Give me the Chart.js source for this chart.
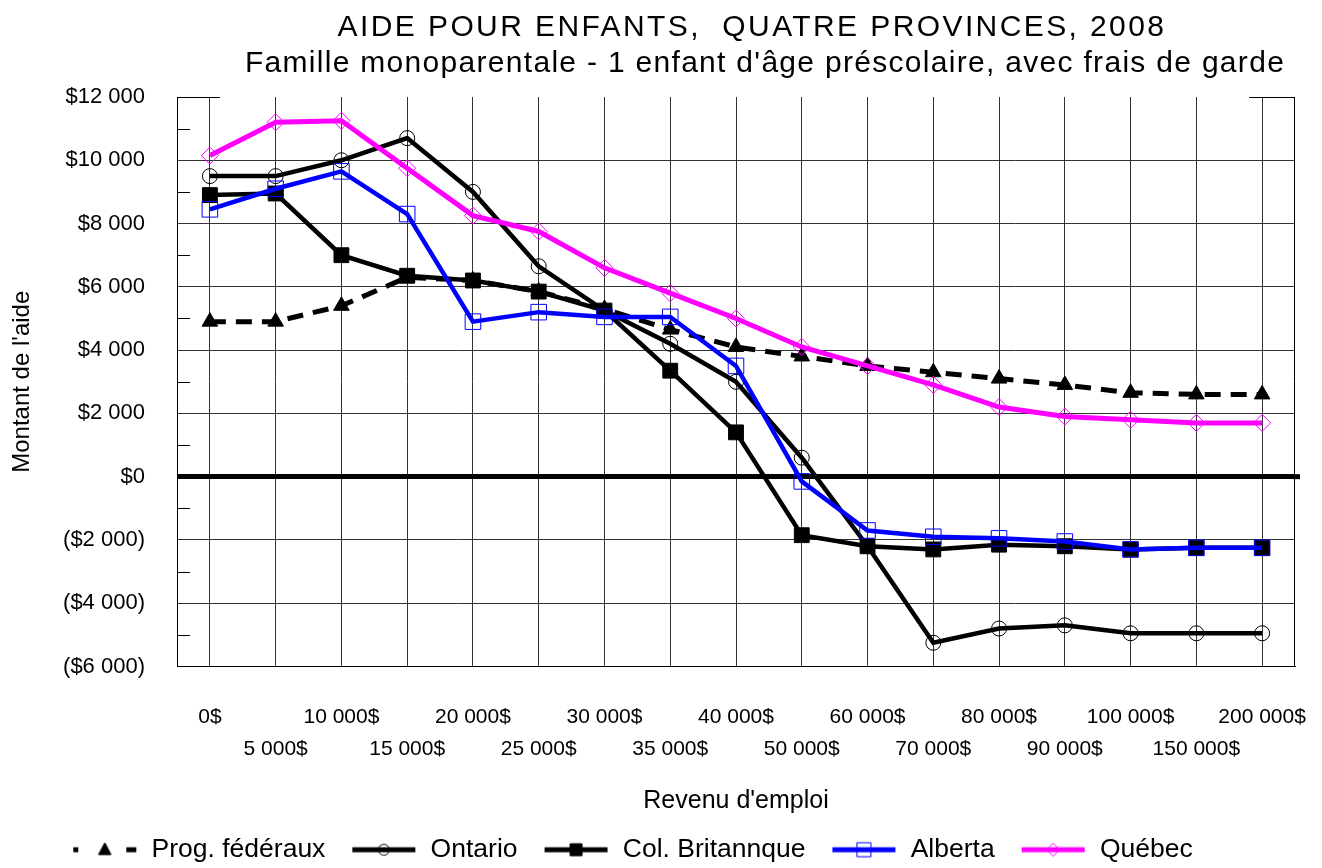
<!DOCTYPE html>
<html>
<head>
<meta charset="utf-8">
<title>Aide pour enfants, quatre provinces, 2008</title>
<script src="https://cdn.jsdelivr.net/npm/chart.js@4.4.1/dist/chart.umd.min.js"></script>
<style>
  html, body { margin: 0; padding: 0; background: #fff; }
  #wrap { width: 1322px; height: 868px; }
</style>
</head>
<body>
<div id="wrap"><canvas id="chart" width="1322" height="868"></canvas></div>
<script>
// revenu d'emploi (categories on the x axis)
const categories = ['0$', '5 000$', '10 000$', '15 000$', '20 000$', '25 000$', '30 000$', '35 000$',
  '40 000$', '50 000$', '60 000$', '70 000$', '80 000$', '90 000$', '100 000$', '150 000$', '200 000$'];

// montant de l'aide
const federal = [4900, 4900, 5400, 6300, 6200, 5850, 5300, 4650, 4100, 3800, 3500, 3300, 3100, 2900, 2650, 2600, 2600];
const ontario = [9500, 9500, 10000, 10700, 9000, 6650, 5250, 4200, 3000, 600, -2200, -5250, -4800, -4700, -4950, -4950, -4950];
const colBritannique = [8900, 8950, 7000, 6350, 6200, 5850, 5250, 3350, 1400, -1850, -2200, -2300, -2150, -2200, -2300, -2250, -2250];
const alberta = [8450, 9100, 9650, 8300, 4900, 5200, 5050, 5050, 3500, -150, -1700, -1900, -1950, -2050, -2300, -2250, -2250];
const quebec = [10150, 11200, 11250, 9750, 8250, 7750, 6600, 5800, 5000, 4100, 3500, 2900, 2200, 1900, 1800, 1700, 1700];

const seriesNames = ['Prog. fédéraux', 'Ontario', 'Col. Britannque', 'Alberta', 'Québec'];
const titleLines = ['AIDE POUR ENFANTS,  QUATRE PROVINCES, 2008',
  "Famille monoparentale - 1 enfant d'âge préscolaire, avec frais de garde"];
const yMin = -6000, yMax = 12000, yStep = 2000;

const FONT = "'Liberation Sans', Arial, Helvetica, sans-serif";
Chart.defaults.font.family = FONT;
Chart.defaults.color = '#000';

function thousands(v) {
  return String(v).replace(/\B(?=(\d{3})+(?!\d))/g, ' ');
}
function money(v) {
  const s = '$' + thousands(Math.abs(v));
  return v < 0 ? '(' + s + ')' : s;
}

// small picture used as legend symbol: line sample + marker
function legendSample(color, lineWidth, style, r, fill, dashed) {
  const c = document.createElement('canvas');
  c.width = 86; c.height = 24;
  const g = c.getContext('2d');
  const x0 = 21, x1 = 84, cx = (x0 + x1) / 2, cy = 12;
  g.strokeStyle = color;
  g.lineWidth = lineWidth;
  if (dashed) {
    g.fillStyle = color;
    g.fillRect(x0, cy - 2.5, 5, 5);
    g.fillRect(x1 - 10, cy - 2.5, 10, 5);
  } else {
    g.beginPath(); g.moveTo(x0, cy); g.lineTo(x1, cy); g.stroke();
  }
  g.beginPath();
  if (style === 'circle') g.arc(cx, cy, r, 0, Math.PI * 2);
  else if (style === 'rect') g.rect(cx - r, cy - r, 2 * r, 2 * r);
  else if (style === 'rectRot') { g.moveTo(cx, cy - r); g.lineTo(cx + r, cy); g.lineTo(cx, cy + r); g.lineTo(cx - r, cy); g.closePath(); }
  else if (style === 'triangle') { g.moveTo(cx, cy - r); g.lineTo(cx + r * 0.9, cy + r * 0.7); g.lineTo(cx - r * 0.9, cy + r * 0.7); g.closePath(); }
  if (fill) { g.fillStyle = fill; g.fill(); }
  g.lineWidth = 1;
  g.strokeStyle = color;
  g.stroke();
  return c;
}

const samples = [
  legendSample('#000', 5, 'triangle', 7, '#000', true),
  legendSample('#000', 5, 'circle', 5.5, null, false),
  legendSample('#000', 5, 'rect', 6, '#000', false),
  legendSample('#0000ff', 5, 'rect', 7, null, false),
  legendSample('#ff00ff', 5, 'rectRot', 6.5, null, false)
];

// frame bits, minor ticks and the two title lines
const decorations = {
  id: 'decorations',
  afterLayout(chart) {
    // the legend in the picture sits a little left of centre and a bit lower
    const lg = chart.legend;
    if (lg) { lg.left -= 25; lg.right -= 25; lg.top += 5; lg.bottom += 5; }
  },
  beforeDatasetsDraw(chart) {
    const {ctx, chartArea: a, scales: {y}} = chart;
    ctx.save();
    ctx.strokeStyle = '#000';
    ctx.lineWidth = 1;
    ctx.beginPath();
    for (let v = yMin + yStep / 2; v < yMax; v += yStep) {
      const py = Math.round(y.getPixelForValue(v)) + 0.5;
      ctx.moveTo(a.left, py); ctx.lineTo(a.left + 13, py);
    }
    ctx.moveTo(a.right - 0.5, a.top); ctx.lineTo(a.right - 0.5, a.bottom);
    ctx.moveTo(a.left, a.top + 0.5); ctx.lineTo(a.left + 43, a.top + 0.5);
    ctx.moveTo(a.right - 46, a.top + 0.5); ctx.lineTo(a.right, a.top + 0.5);
    ctx.stroke();
    // zero line runs a touch past the right frame
    const y0 = y.getPixelForValue(0);
    ctx.lineWidth = 5;
    ctx.beginPath(); ctx.moveTo(a.right - 2, y0); ctx.lineTo(a.right + 5, y0); ctx.stroke();
    ctx.restore();
  },
  afterDraw(chart) {
    const {ctx, chartArea: a} = chart;
    const mid = (a.left + a.right) / 2;
    ctx.save();
    ctx.fillStyle = '#000';
    ctx.textAlign = 'center';
    ctx.textBaseline = 'alphabetic';
    ctx.font = '30px ' + FONT;
    if ('letterSpacing' in ctx) ctx.letterSpacing = '2.4px';
    ctx.fillText(titleLines[0], mid + 16, 36);
    if ('letterSpacing' in ctx) ctx.letterSpacing = '1.3px';
    ctx.fillText(titleLines[1], mid + 29, 72);
    ctx.restore();
  }
};

const seriesData = [federal, ontario, colBritannique, alberta, quebec];
const styles = [
  {color: '#000', width: 5, dash: [16, 10], pointStyle: 'triangle', radius: 9, fill: '#000'},
  {color: '#000', width: 4.5, dash: [], pointStyle: 'circle', radius: 7.5, fill: 'rgba(0,0,0,0)'},
  {color: '#000', width: 4.5, dash: [], pointStyle: 'rect', radius: 10.5, fill: '#000'},
  {color: '#0000ff', width: 4.5, dash: [], pointStyle: 'rect', radius: 11, fill: 'rgba(0,0,0,0)'},
  {color: '#ff00ff', width: 5, dash: [], pointStyle: 'rectRot', radius: 8.5, fill: 'rgba(0,0,0,0)'}
];

const datasets = seriesData.map((data, i) => ({
  label: seriesNames[i],
  data,
  borderColor: styles[i].color,
  borderWidth: styles[i].width,
  borderDash: styles[i].dash,
  pointStyle: styles[i].pointStyle,
  pointRadius: styles[i].radius,
  pointHoverRadius: styles[i].radius,
  pointBackgroundColor: styles[i].fill,
  pointBorderColor: styles[i].color,
  pointBorderWidth: 1,
  tension: 0,
  fill: false,
  order: seriesData.length - i
}));

new Chart(document.getElementById('chart'), {
  type: 'line',
  data: {labels: categories, datasets},
  plugins: [decorations],
  options: {
    responsive: false,
    animation: false,
    layout: {padding: {top: 97, right: 27, left: 0, bottom: 0}},
    plugins: {
      title: {display: false},
      tooltip: {enabled: false},
      legend: {
        position: 'bottom',
        labels: {
          usePointStyle: true,
          pointStyleWidth: 86,
          padding: 6,
          font: {size: 26.5},
          color: '#000',
          generateLabels(chart) {
            return chart.data.datasets.map((ds, i) => ({
              text: ds.label,
              pointStyle: samples[i],
              datasetIndex: i,
              fillStyle: 'rgba(0,0,0,0)',
              strokeStyle: 'rgba(0,0,0,0)',
              lineWidth: 0,
              hidden: false,
              fontColor: '#000'
            }));
          }
        }
      }
    },
    scales: {
      x: {
        offset: true,
        grid: {color: '#333', lineWidth: 1, drawTicks: false, offset: false},
        border: {display: true, color: '#000', width: 1},
        ticks: {
          autoSkip: false,
          maxRotation: 0,
          padding: 35,
          font: {size: 21, lineHeight: 1.5},
          callback(value, index) {
            const t = categories[index];
            return index % 2 === 0 ? [t, ''] : ['', t];
          }
        },
        title: {display: true, text: "Revenu d'emploi", font: {size: 25}, padding: {top: 0, bottom: 9}},
        afterFit(scale) {
          scale.height = 159;
          scale.paddingLeft = 0;
          scale.paddingRight = 0;
        }
      },
      y: {
        min: yMin,
        max: yMax,
        ticks: {stepSize: yStep, padding: 32, font: {size: 22}, callback: v => money(v)},
        grid: {
          drawTicks: false,
          color: c => c.tick.value === yMax ? 'rgba(0,0,0,0)' : (c.tick.value === 0 ? '#000' : '#333'),
          lineWidth: c => c.tick.value === 0 ? 5 : 1
        },
        border: {display: true, color: '#000', width: 1},
        title: {display: true, text: "Montant de l'aide", font: {size: 24}, padding: {top: 8, bottom: 0}},
        afterFit(scale) { scale.width = 177; }
      }
    }
  }
});
</script>
</body>
</html>
